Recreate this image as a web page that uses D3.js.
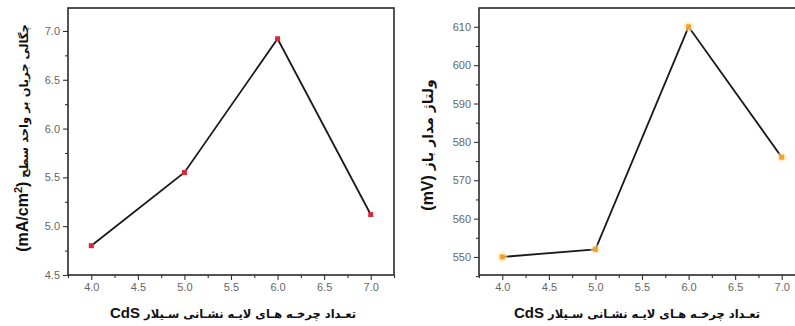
<!DOCTYPE html>
<html><head><meta charset="utf-8">
<script src="https://cdn.jsdelivr.net/npm/d3@7"></script>
<style>body{margin:0;background:#fff}svg{display:block}</style>
</head><body>
<svg id="c" width="795" height="326"></svg>
<script>
const cycles = [4, 5, 6, 7];
const currentDensity = [4.80, 5.55, 6.92, 5.12];
const openVoltage = [550, 552, 610, 576];
const xTicks = [4.0, 4.5, 5.0, 5.5, 6.0, 6.5, 7.0];
const yTicksLeft = [4.5, 5.0, 5.5, 6.0, 6.5, 7.0];
const yTicksRight = [550, 560, 570, 580, 590, 600, 610];
const xLabelLatin = "CdS";
const xLabelText = " تعـداد چرخـه هـای لایـه نشـانی سـیلار";
const yLabelLeftUnit = ["(mA/cm", "2", ")"];
const yLabelLeftText = " چگالی جریان بر واحد سطح";
const yLabelRightUnit = "(mV)";
const yLabelRightText = " ولتاژ مدار باز";

const svg = d3.select("#c");
const FONT = "'DejaVu Sans', 'Liberation Sans', sans-serif";
const LATIN = "'Liberation Sans', Arial, sans-serif";

function panel(o) {
  const g = svg.append("g");
  const x = d3.scaleLinear().domain([3.75, 7.25]).range([o.left, o.left + 326]);
  const y = d3.scaleLinear().domain(o.yDomain).range([275, 8]);
  const xMinor = d3.range(3.75, 7.26, 0.25).filter(v => Math.abs(v*2 - Math.round(v*2)) > 1e-6);
  g.append("g").attr("transform", "translate(0,275)")
    .call(d3.axisBottom(x).tickValues(xTicks).tickFormat(d3.format(".1f")).tickSize(5).tickPadding(3));
  g.append("g").attr("transform", "translate(0,275)")
    .call(d3.axisBottom(x).tickValues(xMinor).tickFormat("").tickSize(3));
  g.append("g").attr("transform", `translate(${o.left},0)`)
    .call(d3.axisLeft(y).tickValues(o.yTicks).tickFormat(o.fmt).tickSize(5).tickPadding(3));
  g.append("g").attr("transform", `translate(${o.left},0)`)
    .call(d3.axisLeft(y).tickValues(o.yMinor).tickFormat("").tickSize(3));
  g.selectAll(".domain").remove();
  g.selectAll(".tick line").attr("stroke", "#333").attr("stroke-width", 1.1);
  g.selectAll(".tick text").attr("fill", "#666").style("font-family", LATIN).style("font-size", "11px");
  g.append("rect").attr("x", x.range()[0]).attr("y", 8)
    .attr("width", x.range()[1] - x.range()[0]).attr("height", 275 - 8)
    .attr("fill", "none").attr("stroke", "#2a2a2a").attr("stroke-width", 1.6);
  const pts = cycles.map((c, i) => [x(c), y(o.values[i])]);
  g.append("path").attr("d", d3.line()(pts)).attr("fill", "none")
    .attr("stroke", "#1a1a1a").attr("stroke-width", 1.8);
  if (o.glow) {
    g.selectAll("circle.glow").data(pts).join("circle").attr("class", "glow")
      .attr("cx", d => d[0]).attr("cy", d => d[1]).attr("r", 5)
      .attr("fill", o.glow).attr("opacity", 0.55);
  }
  g.selectAll("rect.m").data(pts).join("rect").attr("class", "m")
    .attr("x", d => d[0] - 2.5).attr("y", d => d[1] - 2.5).attr("width", 5).attr("height", 5)
    .attr("fill", o.color);
  const t = g.append("text").attr("x", o.xLabelX).attr("y", 318).attr("text-anchor", "middle")
    .style("font-family", FONT).style("font-weight", "bold").attr("fill", "#111");
  t.append("tspan").style("font-family", LATIN).style("font-size", "15px").text(xLabelLatin);
  t.append("tspan").style("font-size", "11.5px").text(xLabelText);
  return {x, y, g};
}

panel({left: 68, yDomain: [4.5, 7.235], yTicks: yTicksLeft, yMinor: [4.75,5.25,5.75,6.25,6.75],
  fmt: d3.format(".1f"), values: currentDensity, color: "#d8283c", xLabelX: 233});
panel({left: 479, yDomain: [545.3, 614.9], yTicks: yTicksRight, yMinor: [545,555,565,575,585,595,605],
  fmt: d3.format("d"), values: openVoltage, color: "#f0a030", glow: "#fde7a8", xLabelX: 637});

const tl = svg.append("text").attr("transform", "translate(28,138) rotate(-90)").attr("text-anchor", "middle")
  .style("font-family", FONT).style("font-weight", "bold").attr("fill", "#111");
tl.append("tspan").style("font-family", LATIN).style("font-size", "16px").text(yLabelLeftUnit[0]);
tl.append("tspan").attr("dy", -6).style("font-family", LATIN).style("font-size", "11px").text(yLabelLeftUnit[1]);
tl.append("tspan").attr("dy", 6).style("font-family", LATIN).style("font-size", "16px").text(yLabelLeftUnit[2]);
tl.append("tspan").style("font-size", "11.5px").text(yLabelLeftText);

const tr = svg.append("text").attr("transform", "translate(433,145) rotate(-90)").attr("text-anchor", "middle")
  .style("font-family", FONT).style("font-weight", "bold").attr("fill", "#111");
tr.append("tspan").style("font-family", LATIN).style("font-size", "16px").text(yLabelRightUnit);
tr.append("tspan").style("font-size", "14px").text(yLabelRightText);
</script>
</body></html>
